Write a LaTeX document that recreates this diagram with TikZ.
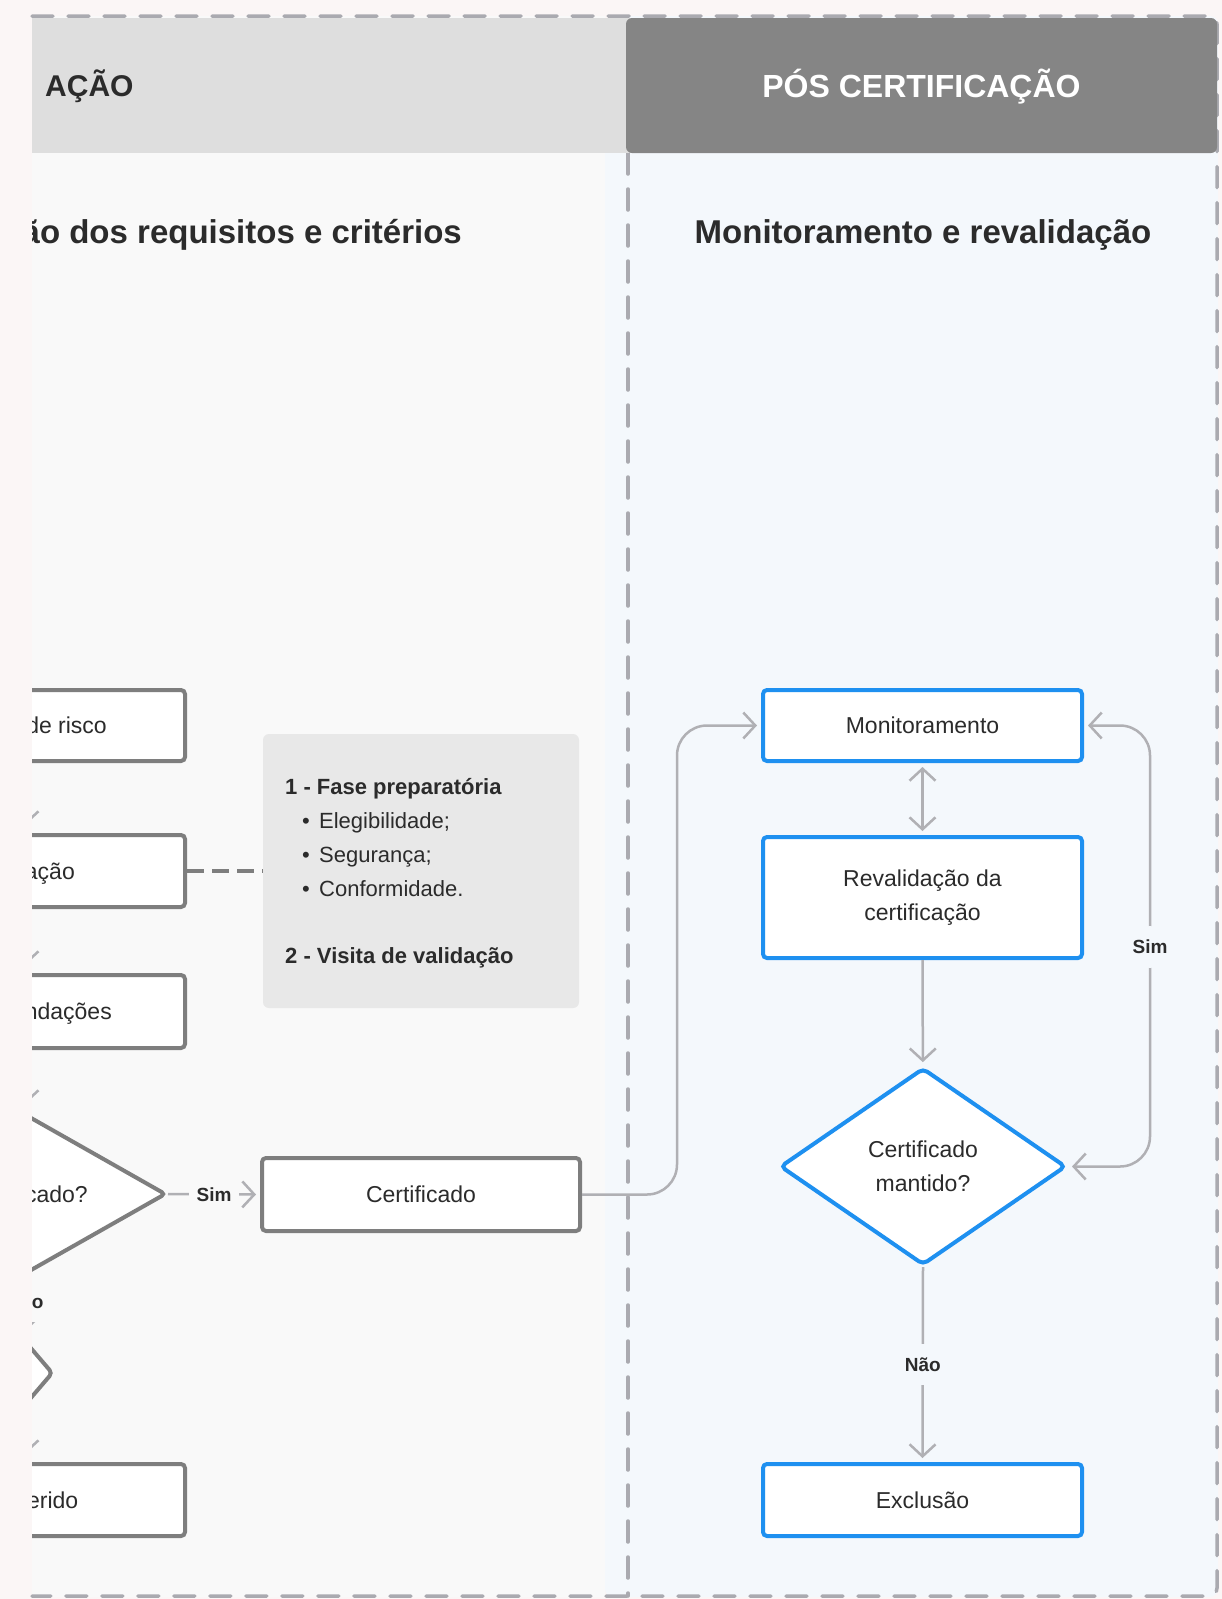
\documentclass[tikz,border=0pt]{standalone}
\usepackage{fontspec}
\setmainfont{Liberation Sans}
\usetikzlibrary{arrows.meta,shapes.geometric,calc}
\definecolor{pagebg}{HTML}{FBF6F6}
\definecolor{leftbg}{HTML}{F9F9F9}
\definecolor{rightbg}{HTML}{F4F8FC}
\definecolor{hdrlight}{HTML}{DEDEDE}
\definecolor{hdrdark}{HTML}{858585}
\definecolor{dashgray}{HTML}{AAAAB0}
\definecolor{boxgray}{HTML}{7E7E7E}
\definecolor{conngray}{HTML}{B0B0B4}
\definecolor{flowblue}{HTML}{1E90F0}
\definecolor{infofill}{HTML}{E8E8E8}
\definecolor{ink}{HTML}{2B2B2B}
\begin{document}
\begin{tikzpicture}[x=1pt,y=-1pt,
  dashline/.style={draw=dashgray, line width=3.5pt, dash pattern=on 21pt off 15pt, line cap=round},
  hdr/.style={font=\bfseries\fontsize{32}{38}\selectfont, inner sep=0pt, text height=23pt, text depth=0pt},
  subttl/.style={font=\bfseries\fontsize{33}{40}\selectfont, text=ink, inner sep=0pt, text height=23.8pt, text depth=0pt},
  graybox/.style={draw=boxgray, line width=4pt, fill=white, rounded corners=4pt, minimum width=319pt, inner sep=0pt, text=ink, font=\fontsize{23}{34}\selectfont, text height=16.5pt, text depth=0pt},
  graydia/.style={diamond, draw=boxgray, line width=4pt, fill=white, rounded corners=4pt, inner sep=0pt},
  bluebox/.style={draw=flowblue, line width=4pt, fill=white, rounded corners=4pt, minimum width=319pt, inner sep=0pt, text=ink, font=\fontsize{23}{34}\selectfont, align=center},
  frag/.style={anchor=east, inner sep=0pt, text=ink, font=\fontsize{23}{34}\selectfont, text height=16.5pt, text depth=0pt},
  infotxt/.style={anchor=west, inner sep=0pt, text=ink, font=\fontsize{22}{28}\selectfont, text height=15.8pt, text depth=0pt},
  lbl/.style={font=\bfseries\fontsize{19}{22}\selectfont, text=ink, inner xsep=8pt, inner ysep=14pt, text height=13.7pt, text depth=0pt},
  conn/.style={draw=conngray, line width=2.5pt, >={Straight Barb[length=12pt,width=26pt]}, shorten >=4pt},
]
\useasboundingbox (0,0) rectangle (1222,1599);
% backgrounds
\fill[pagebg] (0,0) rectangle (1222,1599);
\fill[leftbg] (32,16) rectangle (605,1597);
\fill[rightbg, rounded corners=8pt] (605,16) rectangle (1218,1597);
% dashed borders
\draw[dashline, rounded corners=8pt] (32,16) -- (1217,16) -- (1217,1596) -- (32,1596);
\draw[dashline] (628,153) -- (628,1596);
% headers
\fill[hdrlight] (32,18) rectangle (632,153);
\fill[hdrdark, rounded corners=6pt] (626,18) rectangle (1217,153);
\node[hdr, text=ink, anchor=west, font=\bfseries\fontsize{30}{36}\selectfont, text height=21.6pt] (hL) at (45,86) {AÇÃO};
\node[hdr, text=white] (hR) at (921.5,86) {PÓS CERTIFICAÇÃO};
\node[subttl] (sR) at (923,232) {Monitoramento e revalidação};

% left column (cut by the picture edge)
\begin{scope}
\clip (32,0) rectangle (626,1599);
\node[subttl, anchor=east] (sL) at (462,232) {ão dos requisitos e critérios};
\node[graybox, minimum height=71pt] (b1) at (25.5,725.5) {};
\node[graybox, minimum height=72pt] (b2) at (25.5,871) {};
\node[graybox, minimum height=73pt] (b3) at (25.5,1011.5) {};
\node[graydia, minimum width=281pt, minimum height=160pt] (ldia) at (25.5,1194) {};
\node[graydia, minimum width=55pt, minimum height=64pt] (sdia) at (25.5,1373) {};
\node[graybox, minimum height=72pt] (b5) at (25.5,1500) {};
\node[frag] (t1) at (107,725.5) {de risco};
\node[frag] (t2) at (75,871) {ação};
\node[frag] (t3) at (112,1011.5) {ndações};
\node[frag] (t4) at (88,1194) {cado?};
\node[frag] (t5) at (78.5,1500) {erido};
\draw[conn,->,shorten >=8pt] (b1) -- (b2);
\draw[conn,->,shorten >=8pt] (b2) -- (b3);
\draw[conn,->,shorten >=8pt] (b3) -- (ldia);
\draw[conn,->,shorten >=8pt] (ldia) -- (sdia) node[pos=0.4, lbl, fill=leftbg] {Não};
\draw[conn,->,shorten >=8pt] (sdia) -- (b5);
\end{scope}

% info box
\node[fill=infofill, rounded corners=6pt, minimum width=316pt, minimum height=274pt, inner sep=0pt] (info) at (421,871) {};
\node[infotxt, font=\bfseries\fontsize{22}{28}\selectfont] (i1) at (285,787) {1 - Fase preparatória};
\node[infotxt] (i2) at (302,821) {\makebox[17pt][l]{\textbullet}Elegibilidade;};
\node[infotxt] (i3) at (302,855) {\makebox[17pt][l]{\textbullet}Segurança;};
\node[infotxt] (i4) at (302,889) {\makebox[17pt][l]{\textbullet}Conformidade.};
\node[infotxt, font=\bfseries\fontsize{22}{28}\selectfont] (i5) at (285,956) {2 - Visita de validação};
\draw[draw=boxgray, line width=3.5pt, dash pattern=on 17pt off 8pt] (b2.east) -- (info.west);

% certificado
\node[graybox, minimum width=318pt, minimum height=73pt] (cert) at (421,1194.5) {Certificado};
\draw[conn,->] (ldia.east) -- (cert.west) node[midway, lbl, fill=leftbg] {Sim};

% right column
\node[bluebox, minimum height=71pt, text height=16.5pt, text depth=0pt] (mon) at (922.5,725.5) {Monitoramento};
\node[bluebox, minimum height=121pt] (rev) at (922.5,897.5) {Revalidação da\\certificação};
\node[diamond, draw=flowblue, line width=4pt, fill=white, rounded corners=5pt, inner sep=0pt, aspect=1.45, minimum width=286pt, minimum height=197pt, text=ink, font=\fontsize{23}{34}\selectfont, align=center] (rdia) at (923,1166.5) {Certificado\\mantido?};
\node[bluebox, minimum height=72pt, text height=16.5pt, text depth=0pt] (exc) at (922.5,1500) {Exclusão};

\draw[conn,->,rounded corners=30pt] (cert.east) -- ++(95,0) |- (mon.west);
\draw[conn,<->,shorten <=4pt] (mon) -- (rev);
\draw[conn,->] (rev) -- (rdia);
\draw[conn,->] (rdia.south) -- (exc.north) node[midway, lbl, fill=rightbg] {Não};
\draw[conn,<->,shorten <=4pt,rounded corners=30pt] (mon.east) -| (1150,947) node[lbl, fill=rightbg] {Sim} |- (rdia.east);
\end{tikzpicture}
\end{document}
